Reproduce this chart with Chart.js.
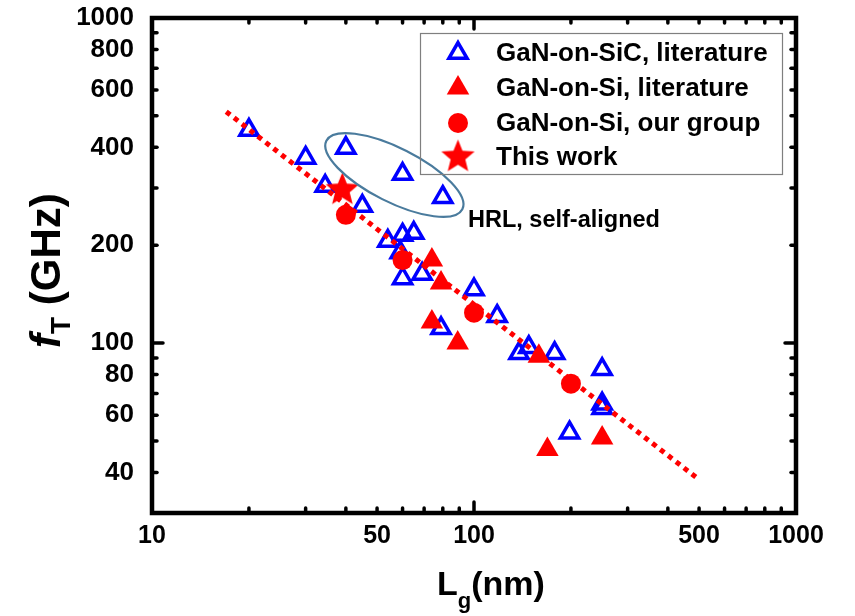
<!DOCTYPE html>
<html>
<head>
<meta charset="utf-8">
<script src="https://cdn.jsdelivr.net/npm/chart.js@4"></script>
<style>
  body { margin: 0; background: #fff; }
  canvas { display: block; }
</style>
</head>
<body>
<canvas id="ftChart" width="855" height="616"></canvas>
<script>
// gate length Lg (nm) vs cut-off frequency fT (GHz)
const sicLg = [20, 30, 40, 60, 80, 34.5, 45, 54, 60, 65, 59, 60, 69, 100, 118, 79, 138, 148, 178, 250, 250, 250, 198];
const sicFt = [452, 371, 398, 331, 281, 304, 264, 206, 215, 218, 190, 158, 163, 146, 121, 111, 93, 97, 93, 83, 65, 63, 53];
const siLg = [74, 79, 74, 89, 159, 169, 250];
const siFt = [180, 153, 116, 100, 91, 47, 51];
const groupLg = [40, 60, 100, 200];
const groupFt = [248, 180, 124, 75];
const workLg = [39];
const workFt = [296];
const fitLg = [17, 500];
const fitFt = [515, 38];

const xTickLabels = [10, 50, 100, 500, 1000];
const yTickLabels = [40, 60, 80, 100, 200, 400, 600, 800, 1000];
const xMinorTicks = [20, 30, 40, 50, 60, 70, 80, 90, 200, 300, 400, 500, 600, 700, 800, 900];
const yMinorTicks = [40, 50, 60, 70, 80, 90, 200, 300, 400, 500, 600, 700, 800, 900];

// HRL self-aligned group, ellipse drawn between these two (Lg, fT) ends
const hrlFrom = [34.8, 419];
const hrlTo = [92, 258];

const FONT = "'Liberation Sans', Arial, sans-serif";
const BLUE = '#0000ff';
const RED = '#ff0000';

const toPts = (xs, ys) => xs.map((x, i) => ({ x: x, y: ys[i] }));

// filled five-point star as an image for pointStyle
function makeStar(R) {
  const c = document.createElement('canvas');
  const s = Math.ceil(R * 2 + 2);
  c.width = s; c.height = s;
  const g = c.getContext('2d');
  const r = R * 0.44;
  g.translate(s / 2, s / 2);
  g.beginPath();
  for (let i = 0; i < 10; i++) {
    const rad = i % 2 ? r : R;
    const a = -Math.PI / 2 + i * Math.PI / 5;
    g.lineTo(Math.cos(a) * rad, Math.sin(a) * rad);
  }
  g.closePath();
  g.fillStyle = RED;
  g.fill();
  return c;
}
const starImg = makeStar(17.5);

const near = (list, v) => list.some(t => Math.abs(t - v) < t * 1e-6);

// frame, inward ticks on all four sides, ellipse, titles, legend
const decor = {
  id: 'decor',
  afterDatasetsDraw(chart) {
    const ctx = chart.ctx;
    const xs = chart.scales.x, ys = chart.scales.y;

    // ellipse round the HRL points
    const p1 = [xs.getPixelForValue(hrlFrom[0]), ys.getPixelForValue(hrlFrom[1])];
    const p2 = [xs.getPixelForValue(hrlTo[0]), ys.getPixelForValue(hrlTo[1])];
    const cx = (p1[0] + p2[0]) / 2, cy = (p1[1] + p2[1]) / 2;
    const semi = Math.hypot(p2[0] - p1[0], p2[1] - p1[1]) / 2;
    const ang = Math.atan2(p2[1] - p1[1], p2[0] - p1[0]);
    ctx.save();
    ctx.beginPath();
    ctx.ellipse(cx, cy, semi, 27, ang, 0, Math.PI * 2);
    ctx.strokeStyle = '#4a7b9d';
    ctx.lineWidth = 2.2;
    ctx.stroke();
    ctx.fillStyle = '#000';
    ctx.font = 'bold 23.5px ' + FONT;
    ctx.textBaseline = 'middle';
    ctx.fillText('HRL, self-aligned', 468, 221);
    ctx.restore();
  },
  afterDraw(chart) {
    const ctx = chart.ctx;
    const a = chart.chartArea;
    const xs = chart.scales.x, ys = chart.scales.y;
    ctx.save();
    ctx.strokeStyle = '#000';
    ctx.lineCap = 'round';
    ctx.lineWidth = 3.5;
    const tick = (x1, y1, x2, y2) => { ctx.beginPath(); ctx.moveTo(x1, y1); ctx.lineTo(x2, y2); ctx.stroke(); };
    xMinorTicks.concat([100]).forEach(v => {
      const px = xs.getPixelForValue(v);
      const len = v === 100 ? 11 : 5;
      tick(px, a.bottom, px, a.bottom - len);
      tick(px, a.top, px, a.top + len);
    });
    yMinorTicks.concat([100]).forEach(v => {
      const py = ys.getPixelForValue(v);
      const len = v === 100 ? 11 : 5;
      tick(a.left, py, a.left + len, py);
      tick(a.right, py, a.right - len, py);
    });
    ctx.lineCap = 'butt';
    ctx.lineWidth = 4.5;
    ctx.strokeRect(a.left, a.top, a.right - a.left, a.bottom - a.top);

    // axis titles
    ctx.fillStyle = '#000';
    ctx.textBaseline = 'alphabetic';
    ctx.textAlign = 'left';
    ctx.font = 'bold 34px ' + FONT;
    let x = 437;
    ctx.fillText('L', x, 595);
    x += ctx.measureText('L').width;
    ctx.font = 'bold 22px ' + FONT;
    ctx.fillText('g', x, 608);
    x += ctx.measureText('g').width;
    ctx.font = 'bold 34px ' + FONT;
    ctx.fillText('(nm)', x, 595);

    ctx.save();
    ctx.translate(60, 348);
    ctx.rotate(-Math.PI / 2);
    ctx.font = 'italic bold 42px ' + FONT;
    let t = 0;
    ctx.fillText('f', t, 0);
    t += ctx.measureText('f').width;
    ctx.font = 'bold 28px ' + FONT;
    ctx.fillText('T', t, 10);
    t += ctx.measureText('T').width;
    ctx.font = 'bold 42px ' + FONT;
    ctx.fillText(' (GHz)', t, 0);
    ctx.restore();

    // legend box
    ctx.lineWidth = 1.2;
    ctx.strokeStyle = '#7f7f7f';
    ctx.strokeRect(420.5, 33.5, 362, 141);
    const rows = [53, 88, 123, 157];
    chart.data.datasets.forEach(ds => {
      if (ds.legendRow === undefined) return;
      const ry = rows[ds.legendRow];
      ctx.save();
      ctx.fillStyle = ds.backgroundColor;
      ctx.strokeStyle = ds.borderColor;
      ctx.lineWidth = ds.borderWidth;
      ctx.lineCap = 'butt';
      Chart.helpers.drawPoint(ctx, { pointStyle: ds.pointStyle, radius: ds.pointRadius, borderWidth: ds.borderWidth, rotation: 0 }, 458, ry);
      ctx.restore();
      ctx.fillStyle = '#000';
      ctx.font = 'bold 26px ' + FONT;
      ctx.textBaseline = 'middle';
      ctx.fillText(ds.label, 496, ry + 1);
    });
    ctx.restore();
  }
};

new Chart(document.getElementById('ftChart'), {
  type: 'scatter',
  data: {
    datasets: [
      {
        label: 'fit',
        data: toPts(fitLg, fitFt),
        showLine: true,
        borderColor: RED,
        borderWidth: 5,
        borderDash: [5, 5],
        pointRadius: 0,
        order: 0
      },
      {
        label: 'This work',
        data: toPts(workLg, workFt),
        pointStyle: starImg,
        pointRadius: 17.5,
        backgroundColor: RED,
        borderColor: RED,
        borderWidth: 0,
        legendRow: 3,
        order: 1
      },
      {
        label: 'GaN-on-Si, our group',
        data: toPts(groupLg, groupFt),
        pointStyle: 'circle',
        pointRadius: 10,
        backgroundColor: RED,
        borderColor: RED,
        borderWidth: 0,
        legendRow: 2,
        order: 2
      },
      {
        label: 'GaN-on-Si, literature',
        data: toPts(siLg, siFt),
        pointStyle: 'triangle',
        pointRadius: 13,
        backgroundColor: RED,
        borderColor: RED,
        borderWidth: 0,
        legendRow: 1,
        order: 3
      },
      {
        label: 'GaN-on-SiC, literature',
        data: toPts(sicLg, sicFt),
        pointStyle: 'triangle',
        pointRadius: 10.5,
        backgroundColor: 'rgba(0,0,0,0)',
        borderColor: BLUE,
        borderWidth: 3.5,
        legendRow: 0,
        order: 4
      }
    ]
  },
  options: {
    responsive: false,
    animation: false,
    events: [],
    layout: { padding: { top: 18, right: 59, left: 0, bottom: 0 } },
    plugins: { legend: { display: false }, tooltip: { enabled: false } },
    scales: {
      x: {
        type: 'logarithmic',
        min: 10,
        max: 1000,
        grid: { display: false, drawTicks: false },
        border: { display: false },
        ticks: {
          autoSkip: false,
          maxRotation: 0,
          padding: 8,
          color: '#000',
          font: { family: FONT, size: 25, weight: 'bold' },
          callback: v => near(xTickLabels, v) ? String(Math.round(v)) : ''
        },
        afterFit: s => { s.height = 103; s.paddingLeft = 0; s.paddingRight = 0; }
      },
      y: {
        type: 'logarithmic',
        min: 30,
        max: 1000,
        grid: { display: false, drawTicks: false },
        border: { display: false },
        ticks: {
          autoSkip: false,
          padding: 18,
          color: '#000',
          font: { family: FONT, size: 26, weight: 'bold' },
          callback: v => near(yTickLabels, v) ? String(Math.round(v)) : ''
        },
        afterFit: s => { s.width = 152; s.paddingTop = 0; s.paddingBottom = 0; }
      }
    }
  },
  plugins: [decor]
});
</script>
</body>
</html>
